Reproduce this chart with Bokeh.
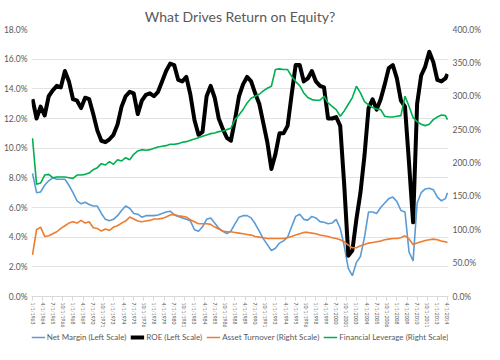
import pandas as pd
from bokeh.plotting import figure
from bokeh.layouts import column
from bokeh.models import (Range1d, LinearAxis, FixedTicker, PrintfTickFormatter,
                          Legend, LegendItem, ColumnDataSource)
from bokeh.embed import file_html
from bokeh.resources import INLINE

# ---------------- data (semi-annual readings, %) ----------------
dates = list(pd.date_range("1963-01-01", "2014-01-01", freq="6MS").strftime("%Y-%m-%d")) + ["2014-04-01"]

roe = [13.3, 12.0, 12.8, 12.2, 13.5, 13.9, 14.2, 14.1, 15.2, 14.5,
       13.3, 13.2, 12.7, 13.4, 13.3, 12.3, 11.2, 10.5, 10.4, 10.6,
       10.9, 11.6, 12.8, 13.5, 13.8, 13.7, 12.3, 13.2, 13.6, 13.7,
       13.5, 13.8, 14.5, 15.2, 15.7, 15.6, 14.6, 14.5, 14.8, 13.6,
       11.9, 10.9, 11.1, 13.5, 14.2, 13.4, 12.0, 11.3, 10.7, 10.5,
       11.9, 13.5, 14.3, 14.8, 14.5, 13.7, 13.0, 11.7, 10.4, 8.6,
       9.6, 11.0, 11.0, 11.5, 13.6, 15.6, 15.6, 14.5, 14.7, 15.2,
       14.5, 14.2, 14.1, 12.0, 12.0, 12.1, 11.5, 7.5, 2.75, 3.1,
       5.2, 7.0, 9.5, 12.7, 13.3, 12.6, 13.3, 14.3, 15.4, 15.6,
       14.7, 13.2, 12.8, 9.0, 5.0, 13.0, 14.9, 15.5, 16.5, 15.8,
       14.6, 14.5, 14.7, 15.0]

net_margin = [8.3, 7.0, 7.05, 7.5, 7.8, 8.0, 7.9, 7.9, 7.9, 7.5,
              7.0, 6.45, 6.25, 6.35, 6.2, 6.1, 6.1, 5.6, 5.2, 5.1,
              5.2, 5.45, 5.8, 6.1, 5.95, 5.6, 5.55, 5.35, 5.45, 5.45,
              5.45, 5.5, 5.6, 5.7, 5.75, 5.5, 5.4, 5.3, 5.2, 5.1,
              4.5, 4.4, 4.7, 5.2, 5.3, 4.95, 4.6, 4.4, 4.25, 4.4,
              4.9, 5.35, 5.45, 5.45, 5.3, 4.9, 4.4, 3.9, 3.5, 3.1,
              3.25, 3.6, 3.75, 4.0, 4.7, 5.4, 5.55, 5.2, 5.15, 5.4,
              5.3, 5.05, 5.0, 4.9, 4.95, 5.2, 4.6, 3.4, 1.9, 1.4,
              2.3, 2.7, 4.0, 5.7, 5.7, 5.6, 6.0, 6.3, 6.6, 6.7,
              6.4, 5.8, 5.7, 3.0, 2.4, 6.3, 7.0, 7.25, 7.3, 7.2,
              6.7, 6.45, 6.6, 7.0]

asset_turnover = [62.5, 100, 104, 90, 91, 94, 97, 102, 106, 110,
                  112, 110, 114, 110, 112, 103, 102, 98, 101, 99,
                  104, 106, 110, 113, 119, 116, 113, 112, 113, 114,
                  116, 116, 117, 119, 122, 123, 121, 120, 119, 115,
                  112, 109, 109, 109, 108, 104, 101, 98, 97, 97,
                  96, 95, 94, 93, 92, 90, 89, 88, 87, 87,
                  87, 87, 87, 88, 90, 92, 94, 96, 96, 95,
                  94, 92, 91, 90, 88, 87, 85, 82, 77, 73,
                  73, 76, 78, 80, 81, 82, 83, 85, 86, 87,
                  87, 88, 91, 86, 78, 80, 82, 84, 85, 86,
                  85, 83, 82, 81]

fin_leverage = [237, 168, 170, 182, 183, 178, 179, 179, 179, 178,
                177, 182, 182, 183, 185, 190, 193, 199, 197, 202,
                198, 205, 203, 208, 205, 213, 218, 220, 219, 220,
                222, 224, 225, 226, 228, 228, 229, 231, 232, 234,
                236, 238, 240, 242, 244, 245, 247, 248, 250, 252,
                265, 272, 280, 290, 297, 300, 303, 308, 312, 315,
                340, 341, 340, 340, 330, 322, 316, 305, 298, 295,
                294, 294, 300, 290, 285, 280, 270, 278, 288, 298,
                315, 305, 292, 287, 283, 281, 280, 270, 269, 269,
                270, 271, 300, 285, 268, 262, 258, 256, 258, 265,
                269, 272, 271, 265]

tick_labels = ["1/1/1963", "4/1/1964", "7/1/1965", "10/1/1966", "1/1/1968", "4/1/1969",
               "7/1/1970", "10/1/1971", "1/1/1973", "4/1/1974", "7/1/1975", "10/1/1976",
               "1/1/1978", "4/1/1979", "7/1/1980", "10/1/1981", "1/1/1983", "4/1/1984",
               "7/1/1985", "10/1/1986", "1/1/1988", "4/1/1989", "7/1/1990", "10/1/1991",
               "1/1/1993", "4/1/1994", "7/1/1995", "10/1/1996", "1/1/1998", "4/1/1999",
               "7/1/2000", "10/1/2001", "1/1/2003", "4/1/2004", "7/1/2005", "10/1/2006",
               "1/1/2008", "4/1/2009", "7/1/2010", "10/1/2011", "1/1/2013", "4/1/2014"]

series_names = ["Net Margin (Left Scale)", "ROE (Left Scale)",
                "Asset Turnover (Right Scale)", "Financial Leverage (Right Scale)"]

# ---------------- build ----------------
dt = pd.to_datetime(dates)
qidx = [(d.year - 1963) * 4 + (d.month - 1) // 3 for d in dt]
src = ColumnDataSource(dict(q=qidx, roe=roe, nm=net_margin, at=asset_turnover, fl=fin_leverage))
cols = ["nm", "roe", "at", "fl"]

FONT = "Lato"
GRAY = "#595959"
COLORS = ["#5b9bd5", "black", "#ed7d31", "#00b050"]
WIDTHS = [1.6, 4, 1.6, 1.6]

p = figure(width=484, height=330, output_backend="svg", toolbar_location=None,
           x_range=Range1d(-0.5, 205.5), y_range=Range1d(0, 18),
           min_border_left=0, min_border_right=0, min_border_top=8, min_border_bottom=0)
p.extra_y_ranges = {"right": Range1d(0, 400)}
p.outline_line_color = None

p.title.text = "What Drives Return on Equity?"
p.title.align = "center"
p.title.text_font = FONT
p.title.text_font_size = "14px"
p.title.text_font_style = "normal"
p.title.text_color = GRAY
p.title.standoff = 10

p.line("q", "nm", source=src, line_color=COLORS[0], line_width=WIDTHS[0])
p.line("q", "roe", source=src, line_color=COLORS[1], line_width=WIDTHS[1], line_join="round")
p.line("q", "at", source=src, line_color=COLORS[2], line_width=WIDTHS[2], y_range_name="right")
p.line("q", "fl", source=src, line_color=COLORS[3], line_width=WIDTHS[3], y_range_name="right")

# left axis
ly = p.yaxis[0]
ly.ticker = FixedTicker(ticks=[0, 2, 4, 6, 8, 10, 12, 14, 16, 18])
ly.formatter = PrintfTickFormatter(format="%.1f%%")

ry = LinearAxis(y_range_name="right")
ry.ticker = FixedTicker(ticks=[0, 50, 100, 150, 200, 250, 300, 350, 400])
ry.formatter = PrintfTickFormatter(format="%.1f%%")
p.add_layout(ry, "right")

for ax in (ly, ry):
    ax.axis_line_color = None
    ax.major_tick_line_color = None
    ax.minor_tick_line_color = None
    ax.major_tick_in = 0
    ax.major_tick_out = 0
    ax.minor_tick_in = 0
    ax.minor_tick_out = 0
    ax.major_label_text_font = FONT
    ax.major_label_text_font_size = "8.5px"
    ax.major_label_text_color = GRAY
    ax.major_label_standoff = 4

xa = p.xaxis[0]
xa.ticker = FixedTicker(ticks=list(range(0, 206, 5)))
xa.major_label_overrides = {i * 5: lab for i, lab in enumerate(tick_labels)}
xa.major_label_orientation = "vertical"
xa.major_label_text_font = FONT
xa.major_label_text_font_size = "5px"
xa.major_label_text_color = GRAY
xa.axis_line_color = "#d9d9d9"
xa.major_tick_line_color = "#d9d9d9"
xa.major_tick_in = 0
xa.major_tick_out = 4
xa.minor_tick_line_color = None
xa.minor_tick_in = 0
xa.minor_tick_out = 0
xa.major_label_standoff = 2

p.xgrid.grid_line_color = None
p.ygrid.grid_line_color = "#e3e3e3"
p.ygrid.ticker = FixedTicker(ticks=[0, 2, 4, 6, 8, 10, 12, 14, 16, 18])

# ---------------- legend strip ----------------
# same series, drawn far outside this strip's view, only to provide legend glyphs
lg = figure(width=484, height=14, output_backend="svg", toolbar_location=None,
            x_range=Range1d(0, 1), y_range=Range1d(1000, 1001),
            x_axis_type=None, y_axis_type=None, min_border=0)
lg.title.visible = False
lg.grid.visible = False
lg.outline_line_color = None
items = []
for name, col, c, w in zip(series_names, cols, COLORS, WIDTHS):
    r = lg.line("q", col, source=src, line_color=c, line_width=w)
    items.append(LegendItem(label=name, renderers=[r]))
legend = Legend(items=items, orientation="horizontal", location="center")
legend.label_text_font = FONT
legend.label_text_font_size = "8px"
legend.label_text_color = GRAY
legend.glyph_width = 14
legend.glyph_height = 8
legend.spacing = 4
legend.padding = 0
legend.margin = 0
legend.label_standoff = 2
legend.label_height = 9
legend.border_line_color = None
legend.background_fill_alpha = 0
lg.add_layout(legend, "center")

layout = column(p, lg, spacing=0)
open("out.html", "w").write(file_html(layout, INLINE))
